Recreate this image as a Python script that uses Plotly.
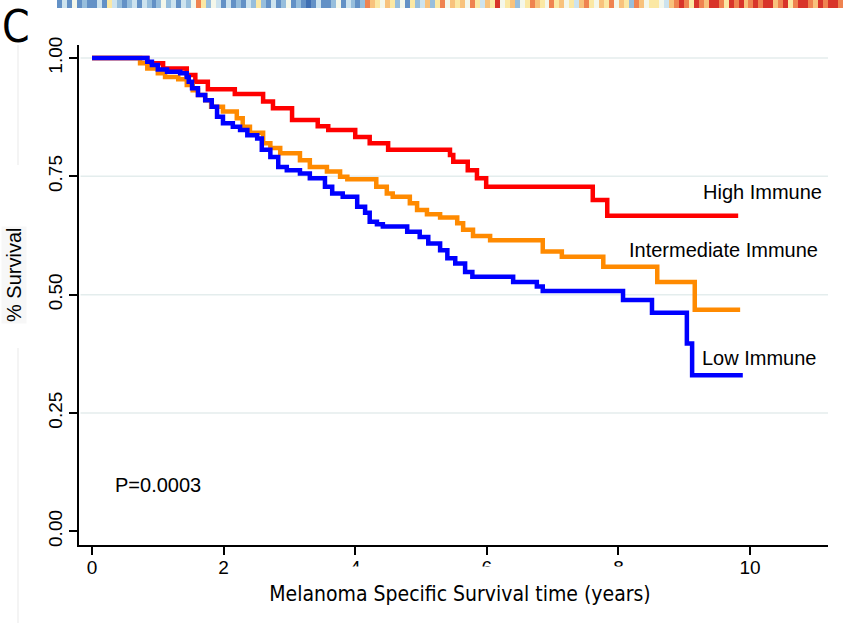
import plotly.graph_objects as go

# Kaplan-Meier step data: event times (years) and survival after each step
high_t = [0, 0.84, 1.08, 1.44, 1.57, 1.76, 2.17, 2.60, 2.75, 3.04, 3.43, 3.59,
          4.00, 4.22, 4.50, 5.44, 5.49, 5.71, 5.85, 5.99, 7.61, 7.83, 9.82]
high_s = [1.0, 0.989, 0.978, 0.964, 0.950, 0.934, 0.924, 0.908, 0.894, 0.869, 0.856, 0.848,
          0.833, 0.820, 0.806, 0.795, 0.781, 0.763, 0.746, 0.728, 0.700, 0.667, 0.667]

mid_t = [0, 0.73, 0.84, 1.00, 1.11, 1.31, 1.44, 1.53, 1.61, 1.72, 1.81, 1.99, 2.20,
         2.29, 2.40, 2.60, 2.71, 2.86, 3.16, 3.31, 3.57, 3.77, 3.88, 4.32, 4.48, 4.57,
         4.83, 4.94, 5.09, 5.29, 5.55, 5.64, 5.79, 6.05, 6.85, 7.14, 7.77, 8.59, 9.16, 9.85]
mid_s = [1.0, 0.989, 0.978, 0.968, 0.960, 0.955, 0.943, 0.932, 0.922, 0.911, 0.897, 0.887, 0.873,
         0.855, 0.842, 0.820, 0.810, 0.799, 0.784, 0.770, 0.760, 0.749, 0.744, 0.728, 0.714, 0.707,
         0.693, 0.679, 0.670, 0.663, 0.651, 0.637, 0.624, 0.615, 0.591, 0.580, 0.559, 0.527, 0.468, 0.468]

low_t = [0, 0.84, 0.91, 1.00, 1.14, 1.34, 1.44, 1.47, 1.52, 1.61, 1.72, 1.82, 1.90, 1.99,
         2.14, 2.25, 2.36, 2.51, 2.58, 2.71, 2.83, 2.96, 3.16, 3.31, 3.54, 3.65, 3.81, 4.03,
         4.15, 4.22, 4.33, 4.42, 4.79, 4.98, 5.11, 5.29, 5.40, 5.52, 5.67, 5.78, 6.40, 6.76,
         6.85, 8.07, 8.51, 9.04, 9.12, 9.89]
low_s = [1.0, 0.992, 0.985, 0.976, 0.971, 0.968, 0.960, 0.950, 0.936, 0.922, 0.911, 0.897, 0.876, 0.862,
         0.855, 0.848, 0.837, 0.830, 0.806, 0.791, 0.770, 0.763, 0.756, 0.746, 0.728, 0.714, 0.707, 0.686,
         0.673, 0.654, 0.649, 0.644, 0.633, 0.622, 0.608, 0.594, 0.577, 0.566, 0.548, 0.538, 0.527, 0.517,
         0.508, 0.489, 0.462, 0.397, 0.330, 0.330]

group_names = ["High Immune", "Intermediate Immune", "Low Immune"]
group_colors = ["#ff0000", "#ff8a00", "#0000ff"]
# label anchor positions (right edge, in data units)
label_x = [11.13, 11.07, 11.05]
label_y = [0.716, 0.594, 0.366]

x_ticks = [0, 2, 4, 6, 8, 10]
y_ticks = [0, 0.25, 0.5, 0.75, 1.0]
y_ticktext = ["0.00", "0.25", "0.50", "0.75", "1.00"]
grid_levels = [0.25, 0.5, 0.75, 1.0]
p_text = "P=0.0003"

# immune score strip (1 = lowest / blue ... 9 = highest / red), samples sorted by score
strip_a = [2, 4, 2, 5, 2, 3, 2, 2, 4, 2, 6, 4, 3, 2, 3, 4, 2, 4, 3, 2,
           3, 5, 3, 4, 2, 4, 3, 5, 8, 6, 3, 5, 4, 2, 4, 2, 3, 2, 4, 3]
strip_b = [6, 3, 2, 4, 2, 3, 5, 2, 3, 2, 1, 2, 4, 2, 2, 3, 5, 2, 4, 3,
           2, 3, 8, 7, 6, 5, 7, 6, 3, 5, 2, 6, 3, 4, 7, 3, 6, 8, 5, 7]
strip_c = [6, 7, 5, 8, 6, 4, 7, 6, 9, 5, 6, 7, 3, 5, 6, 8, 7, 6, 5, 8,
           6, 7, 5, 6, 4, 7, 8, 6, 5, 7, 6, 8, 5, 7, 6, 3, 8, 7, 5, 6]
strip_d = [6, 5, 4, 7, 8, 9, 8, 6, 9, 8, 7, 9, 9, 8, 6, 9, 8, 9, 7, 8,
           9, 8, 9, 9, 7, 8, 9, 6, 8, 9, 9, 8, 7, 9, 8, 9, 9, 8]
strip_levels = strip_a + strip_b + strip_c + strip_d
strip_colors = ["#3f6fb3", "#6391c6", "#97bedc", "#cde3ee", "#f4f7ea",
                "#fbe8a4", "#f8c27c", "#ef8350", "#d8342a"]

W, H = 843, 623


def px_x(p):
    return p / W


def px_y(p):
    return (H - p) / H


fig = go.Figure()

for t, s, name, col in zip([high_t, mid_t, low_t], [high_s, mid_s, low_s],
                           group_names, group_colors):
    fig.add_trace(go.Scatter(
        x=t, y=s, mode="lines", name=name,
        line=dict(color=col, width=4.5, shape="hv"),
        xaxis="x", yaxis="y", showlegend=False,
    ))

n = len(strip_levels)
cs = [[i / (len(strip_colors) - 1), c] for i, c in enumerate(strip_colors)]
fig.add_trace(go.Heatmap(
    z=[strip_levels], x=list(range(n)), y=[0],
    zmin=1, zmax=9, colorscale=cs, showscale=False,
    xaxis="x2", yaxis="y2", hoverinfo="skip",
))

tick_font = dict(family="Liberation Sans, Arial, sans-serif", size=19, color="black")

fig.update_layout(
    template="none",
    width=W, height=H,
    margin=dict(l=0, r=0, t=0, b=0, pad=0),
    paper_bgcolor="white", plot_bgcolor="white",
    font=dict(family="Liberation Sans, Arial, sans-serif", color="black"),
    xaxis=dict(
        domain=[px_x(79), px_x(828)], range=[-0.198, 11.185],
        tickvals=x_ticks, ticks="outside", ticklen=8, tickwidth=1.5, tickcolor="black",
        showline=True, linecolor="black", linewidth=1.5, automargin=False,
        showgrid=False, zeroline=False, tickfont=tick_font, anchor="y",
        ticklabelstandoff=-4,
    ),
    yaxis=dict(
        domain=[px_y(545), px_y(45)], range=[-0.0289, 1.0275],
        tickvals=y_ticks, ticktext=y_ticktext, tickangle=-90,
        ticks="outside", ticklen=8, tickwidth=1.5, tickcolor="black",
        showline=True, linecolor="black", linewidth=1.5, automargin=False,
        showgrid=False, zeroline=False, tickfont=tick_font, anchor="x",
    ),
    xaxis2=dict(domain=[px_x(57), 1.0], range=[-0.5, n - 0.5], visible=False,
                anchor="y2", fixedrange=True, automargin=False),
    yaxis2=dict(domain=[px_y(8), 1.0], range=[-0.5, 0.5], visible=False,
                anchor="x2", fixedrange=True, automargin=False),
)

# horizontal reference lines
for g in grid_levels:
    fig.add_shape(type="line", xref="x domain", yref="y", x0=0.002, x1=1.0, y0=g, y1=g,
                  line=dict(color="#e4eded", width=1.5), layer="below")

# faint guide line along the left edge
fig.add_shape(type="line", xref="paper", yref="paper", x0=px_x(18), x1=px_x(18),
              y0=px_y(45), y1=px_y(165), line=dict(color="#f1f1f1", width=1.5))
fig.add_shape(type="line", xref="paper", yref="paper", x0=px_x(18), x1=px_x(18),
              y0=px_y(348), y1=0, line=dict(color="#f1f1f1", width=1.5))

label_font = dict(family="Liberation Sans, Arial, sans-serif", size=20, color="black")
for name, lx, ly in zip(group_names, label_x, label_y):
    fig.add_annotation(x=lx, y=ly, xref="x", yref="y", text=name, showarrow=False,
                       xanchor="right", yanchor="middle", font=label_font)

fig.add_annotation(x=0.315, y=0.098, xref="x", yref="y", text=p_text, showarrow=False,
                   xanchor="left", yanchor="middle", font=label_font)

# axis titles; the x title's white box sits over the lower part of the middle tick labels
fig.add_annotation(x=px_x(460), y=px_y(594), xref="paper", yref="paper",
                   text="Melanoma Specific Survival time (years)", showarrow=False,
                   xanchor="center", yanchor="middle", width=430, height=54,
                   borderpad=0, bgcolor="white",
                   font=dict(family="Liberation Sans Narrow, DejaVu Sans Condensed, sans-serif",
                             size=21, color="black"))
fig.add_annotation(x=px_x(14), y=px_y(275), xref="paper", yref="paper",
                   text="% Survival", showarrow=False, textangle=-90,
                   xanchor="center", yanchor="middle", bgcolor="#f7f7f7",
                   font=dict(family="Liberation Sans, Arial, sans-serif", size=20, color="black"))

# panel letter
fig.add_annotation(x=0, y=px_y(26), xref="paper", yref="paper", text="C", showarrow=False,
                   xanchor="left", yanchor="middle",
                   font=dict(family="Liberation Sans Narrow, DejaVu Sans Condensed, sans-serif",
                             size=44, color="black"))

fig.write_html("out.html")
